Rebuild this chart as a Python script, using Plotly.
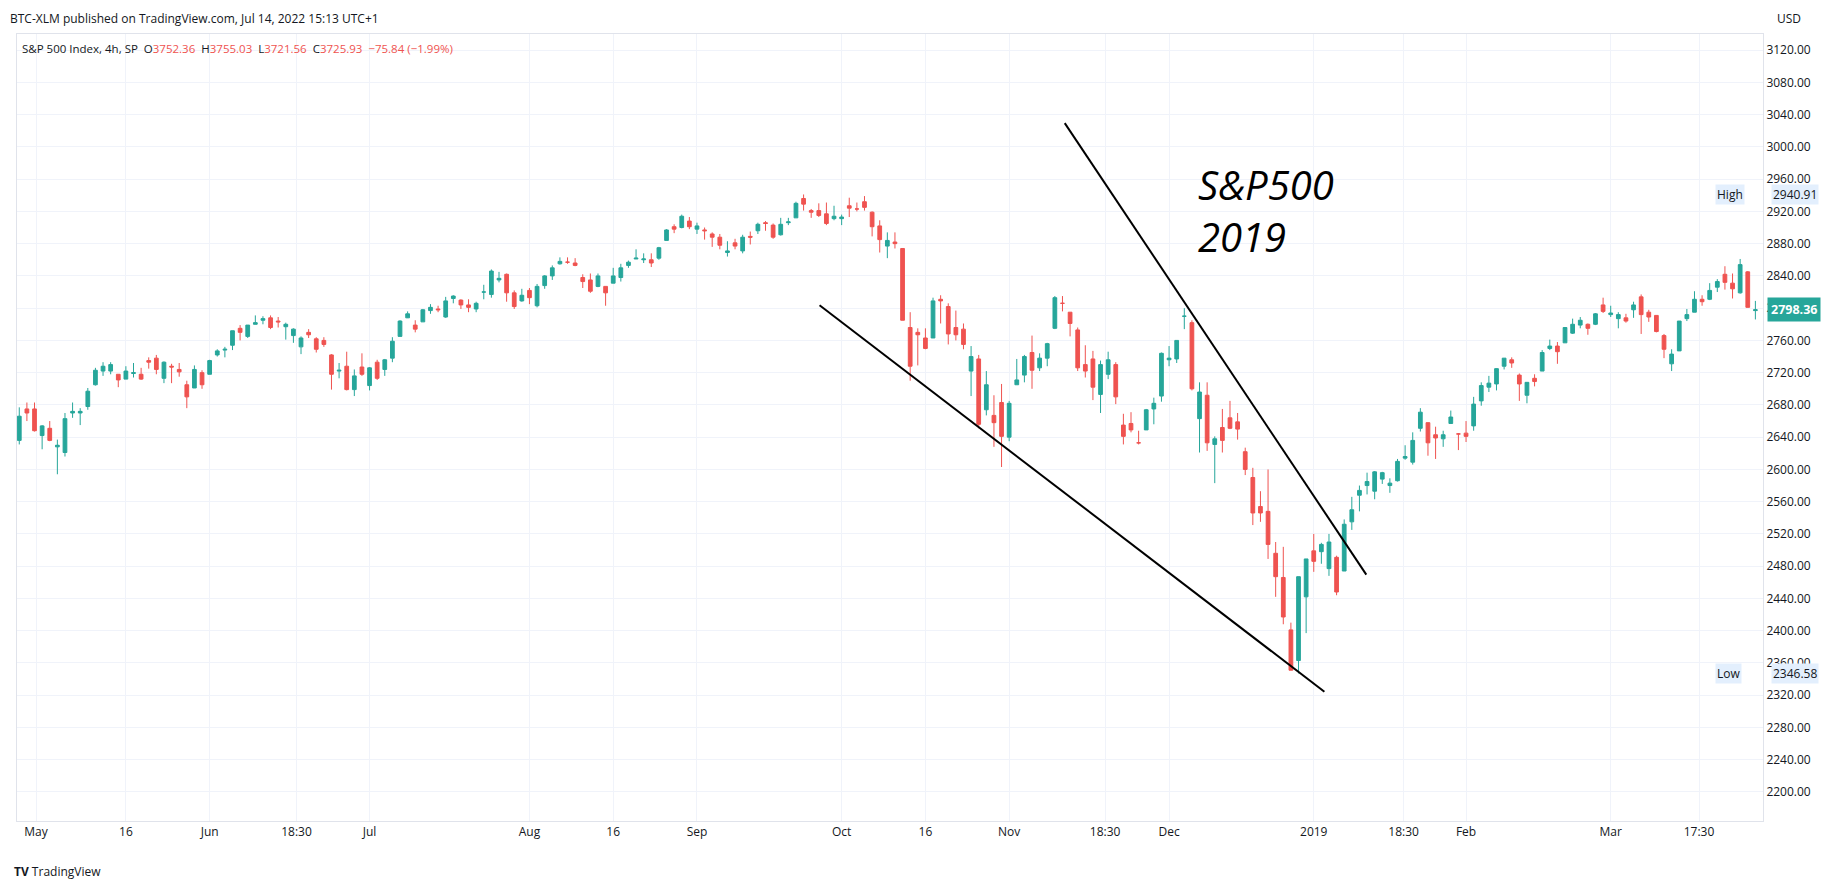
import pandas as pd
import plotly.graph_objects as go

holidays = ["2018-05-28", "2018-07-04", "2018-09-03", "2018-11-22", "2018-12-05",
            "2018-12-25", "2019-01-01", "2019-01-21", "2019-02-18"]
dates = [d for d in pd.bdate_range("2018-04-26", "2019-03-25") if d.strftime("%Y-%m-%d") not in holidays]

opens = [2636,2675,2675,
 2642,2651,2628,2621,2670,2670,2678,2705,2722,2722,2718,2712,2719,2718,2735,2738,2713,2728,2724,2705,2701,2720,
 2718,2742,2748,2754,2775,2765,2780,2785,2788,2784,2777,2766,2752,2770,2762,2760,2742,2722,2728,2699,2727,
 2704,2733,2724,2738,2765,2788,2779,2783,2797,2799,2789,2812,2810,2804,2799,2820,2817,2835,2842,2819,2809,
 2822,2803,2828,2840,2855,2857,2856,2838,2835,2827,2827,2831,2838,2853,2861,2860,2860,2862,2884,2901,2900,2908,2898,
 2897,2892,2888,2869,2881,2871,2889,2896,2906,2903,2891,2906,2912,2936,2921,2921,2917,2911,2911,
 2927,2923,2932,2919,2902,2877,2882,2874,2776,2770,2763,2763,2811,2802,2776,2774,2722,2737,2674,2667,2683,2640,2705,
 2717,2745,2726,2738,2775,2806,2795,2773,2730,2737,2693,2718,2730,2655,2657,2633,2649,2675,2691,2736,2737,
 2790,2782,2663,2692,2631,2652,2664,2659,2622,2590,2554,2548,2496,2466,2401,2363,2442,2499,2498,
 2477,2491,2474,2535,2568,2580,2573,2588,2580,2586,2614,2609,2651,2658,2643,2638,2657,2644,2645,2654,2685,
 2702,2706,2728,2736,2717,2692,2713,2722,2750,2753,2757,2769,2779,2780,2780,2804,2792,2787,2788,
 2798,2814,2795,2791,2766,2731,2747,2787,2795,2811,2811,2826,2842,2831,2819,2845,2797]
highs = [2677,2683,2683,
 2655,2660,2637,2670,2683,2676,2701,2726,2733,2733,2718,2728,2732,2726,2739,2742,2734,2731,2732,2710,2729,2723,
 2736,2749,2752,2772,2779,2779,2791,2790,2791,2789,2782,2775,2765,2774,2764,2764,2743,2732,2746,2724,2744,
 2727,2736,2737,2764,2785,2796,2785,2799,2805,2803,2814,2816,2811,2811,2808,2829,2848,2845,2843,2822,2824,
 2825,2830,2841,2853,2863,2863,2862,2842,2843,2843,2827,2850,2855,2859,2873,2868,2868,2876,2898,2904,2916,2913,2906,
 2900,2894,2892,2883,2886,2891,2895,2906,2908,2905,2912,2912,2932,2941,2923,2930,2931,2927,2916,
 2937,2931,2939,2920,2909,2894,2894,2874,2795,2775,2775,2813,2816,2806,2797,2781,2753,2742,2722,2692,2706,2685,2737,
 2742,2766,2744,2757,2815,2815,2795,2776,2754,2747,2735,2746,2733,2669,2671,2648,2675,2689,2745,2753,2760,
 2800,2785,2708,2708,2641,2675,2685,2670,2627,2602,2573,2600,2510,2504,2410,2467,2489,2520,2509,
 2520,2493,2538,2566,2580,2596,2598,2597,2589,2613,2630,2646,2676,2658,2653,2648,2673,2645,2660,2690,2708,
 2716,2724,2738,2739,2719,2708,2718,2748,2761,2758,2776,2787,2789,2781,2794,2813,2803,2795,2793,
 2808,2817,2798,2791,2768,2749,2784,2799,2821,2816,2831,2836,2852,2843,2861,2846,2809]
lows = [2631,2660,2647,
 2625,2635,2594,2616,2664,2655,2674,2704,2716,2718,2702,2712,2714,2711,2725,2718,2707,2707,2715,2676,2701,2700,
 2718,2740,2739,2748,2760,2763,2780,2780,2774,2776,2761,2757,2743,2763,2745,2752,2699,2713,2698,2691,2716,
 2698,2711,2716,2733,2765,2789,2770,2783,2793,2795,2788,2806,2799,2795,2795,2811,2813,2832,2808,2799,2808,
 2805,2801,2824,2835,2854,2855,2852,2825,2819,2826,2803,2831,2833,2850,2861,2856,2851,2860,2884,2893,2899,2898,2892,
 2885,2876,2873,2864,2873,2868,2879,2892,2896,2886,2890,2903,2912,2921,2912,2913,2903,2909,2903,
 2913,2920,2921,2889,2869,2862,2874,2785,2710,2729,2749,2763,2781,2755,2760,2749,2691,2651,2667,2628,2603,2635,2705,
 2708,2700,2722,2728,2774,2796,2765,2722,2714,2686,2670,2712,2681,2631,2646,2631,2649,2656,2684,2728,2732,
 2774,2698,2621,2623,2583,2621,2650,2637,2593,2531,2535,2489,2442,2408,2351,2347,2397,2473,2483,
 2468,2444,2474,2525,2548,2569,2563,2582,2571,2585,2612,2606,2647,2617,2613,2628,2657,2624,2634,2648,2679,
 2696,2698,2724,2726,2685,2682,2703,2722,2748,2731,2757,2768,2775,2767,2779,2794,2789,2775,2782,
 2788,2768,2783,2770,2738,2722,2747,2784,2795,2803,2810,2820,2823,2812,2818,2801,2786]
closes = [2666,2670,2648,
 2654,2636,2630,2663,2672,2672,2697,2723,2728,2730,2711,2722,2720,2712,2733,2724,2733,2727,2721,2690,2724,2705,
 2735,2747,2749,2772,2770,2779,2782,2787,2776,2783,2780,2774,2763,2767,2749,2755,2718,2723,2699,2716,2718,
 2726,2713,2736,2759,2784,2793,2774,2798,2801,2798,2809,2815,2804,2801,2806,2820,2846,2837,2819,2802,2816,
 2813,2827,2840,2850,2858,2857,2853,2833,2821,2840,2819,2840,2850,2857,2862,2861,2856,2875,2897,2898,2914,2901,2902,
 2896,2888,2878,2871,2877,2888,2888,2904,2905,2888,2904,2907,2930,2929,2919,2915,2905,2914,2913,
 2924,2923,2925,2901,2885,2884,2880,2785,2728,2767,2750,2809,2809,2768,2767,2755,2740,2656,2705,2658,2641,2682,2711,
 2740,2723,2738,2756,2813,2806,2781,2726,2722,2702,2730,2736,2690,2641,2649,2633,2674,2682,2744,2738,2760,
 2790,2700,2696,2633,2638,2636,2651,2650,2600,2546,2546,2507,2467,2417,2351,2467,2489,2486,2507,
 2510,2448,2532,2550,2574,2585,2597,2596,2583,2610,2616,2636,2671,2633,2639,2643,2665,2644,2641,2681,2704,
 2707,2725,2738,2732,2706,2708,2709,2745,2753,2746,2776,2780,2785,2775,2793,2796,2794,2792,2784,
 2804,2792,2789,2771,2749,2743,2784,2792,2811,2808,2822,2833,2832,2824,2854,2801,2798]

tick_pos = [2.2, 14, 25, 36.4, 46, 67, 78, 89, 108, 119, 130, 142.6, 151, 170, 181.8, 190, 209, 220.6]
tick_text = ["May", "16", "Jun", "18:30", "Jul", "Aug", "16", "Sep", "Oct", "16", "Nov", "18:30",
             "Dec", "2019", "18:30", "Feb", "Mar", "17:30"]
y_ticks = list(range(2200, 3121, 40))

trend_upper_x = [137.3, 176.9]
trend_upper_y = [3029.5, 2469.5]
trend_lower_x = [105.1, 171.4]
trend_lower_y = [2803.6, 2324.3]

high_val = 2940.91
low_val = 2346.58
last_val = 2798.36

UP, DOWN = "#26a69a", "#ef5350"
idx = list(range(len(closes)))

fig = go.Figure()
fig.add_trace(go.Candlestick(
    x=idx, open=opens, high=highs, low=lows, close=closes,
    increasing=dict(line=dict(color=UP, width=1), fillcolor=UP),
    decreasing=dict(line=dict(color=DOWN, width=1), fillcolor=DOWN),
    whiskerwidth=0, showlegend=False, hoverinfo="skip"))
fig.add_trace(go.Scatter(x=trend_upper_x, y=trend_upper_y, mode="lines",
                         line=dict(color="black", width=2), showlegend=False, hoverinfo="skip"))
fig.add_trace(go.Scatter(x=trend_lower_x, y=trend_lower_y, mode="lines",
                         line=dict(color="black", width=2), showlegend=False, hoverinfo="skip"))

fig.update_layout(
    width=1834, height=882, margin=dict(l=9, r=79, t=26, b=69),
    paper_bgcolor="white", plot_bgcolor="white",
    font=dict(family="Open Sans, sans-serif", color="#131722", size=12),
    xaxis=dict(range=[-0.3, 229], tickvals=tick_pos, ticktext=tick_text, showgrid=True,
               gridcolor="#f0f3fa", zeroline=False, rangeslider=dict(visible=False),
               showline=True, linecolor="#e0e3eb", mirror=True, ticks="", tickfont=dict(size=12)),
    yaxis=dict(range=[2164, 3140], side="right", tickvals=y_ticks,
               ticktext=[f"{v:.2f}" for v in y_ticks], showgrid=True, gridcolor="#f0f3fa",
               zeroline=False, showline=True, linecolor="#e0e3eb", mirror=True, ticks="",
               tickfont=dict(size=12)),
)

annotations = [
    dict(xref="paper", yref="paper", x=-0.005, y=1.0, yshift=16, xanchor="left", yanchor="middle",
         text="BTC-XLM published on TradingView.com, Jul 14, 2022 15:13 UTC+1",
         showarrow=False, font=dict(size=12, color="#131722")),
    dict(xref="paper", yref="paper", x=0.002, y=1.0, yshift=-14, xanchor="left", yanchor="middle",
         text=("S&P 500 Index, 4h, SP  O<span style='color:#ef5350'>3752.36</span>  "
               "H<span style='color:#ef5350'>3755.03</span>  L<span style='color:#ef5350'>3721.56</span>  "
               "C<span style='color:#ef5350'>3725.93</span>  <span style='color:#ef5350'>−75.84 (−1.99%)</span>"),
         showarrow=False, font=dict(size=11.5, color="#131722")),
    dict(xref="paper", yref="paper", x=1.0, xshift=12, y=1.0, yshift=16, xanchor="left",
         yanchor="middle", text="USD", showarrow=False, font=dict(size=12)),
    dict(xref="x", yref="y", x=154.5, y=2990, xanchor="left", yanchor="top",
         text="<i>S&amp;P500<br>2019</i>", showarrow=False, align="left",
         font=dict(size=40, color="black", family="Open Sans, sans-serif")),
    dict(xref="paper", yref="y", x=1.0, xshift=8, y=high_val, xanchor="left", yanchor="middle",
         text="2940.91", showarrow=False, bgcolor="#e3effd", font=dict(size=12)),
    dict(xref="paper", yref="y", x=1.0, xshift=-48, y=high_val, xanchor="left", yanchor="middle",
         text="High", showarrow=False, bgcolor="#e3effd", font=dict(size=12)),
    dict(xref="paper", yref="y", x=1.0, xshift=8, y=low_val, xanchor="left", yanchor="middle",
         text="2346.58", showarrow=False, bgcolor="#e3effd", font=dict(size=12)),
    dict(xref="paper", yref="y", x=1.0, xshift=-48, y=low_val, xanchor="left", yanchor="middle",
         text="Low", showarrow=False, bgcolor="#e3effd", font=dict(size=12)),
    dict(xref="paper", yref="y", x=1.0, xshift=4, y=last_val, xanchor="left", yanchor="middle",
         text="<b>2798.36</b>", showarrow=False, bgcolor=UP, borderpad=3,
         font=dict(size=12.5, color="white")),
    dict(xref="paper", yref="paper", x=-0.003, y=0, yshift=-50, xanchor="left", yanchor="middle",
         text="<b>TV</b> TradingView", showarrow=False, font=dict(size=12, color="#131722")),
]
fig.update_layout(annotations=annotations)
fig.write_html("out.html")
